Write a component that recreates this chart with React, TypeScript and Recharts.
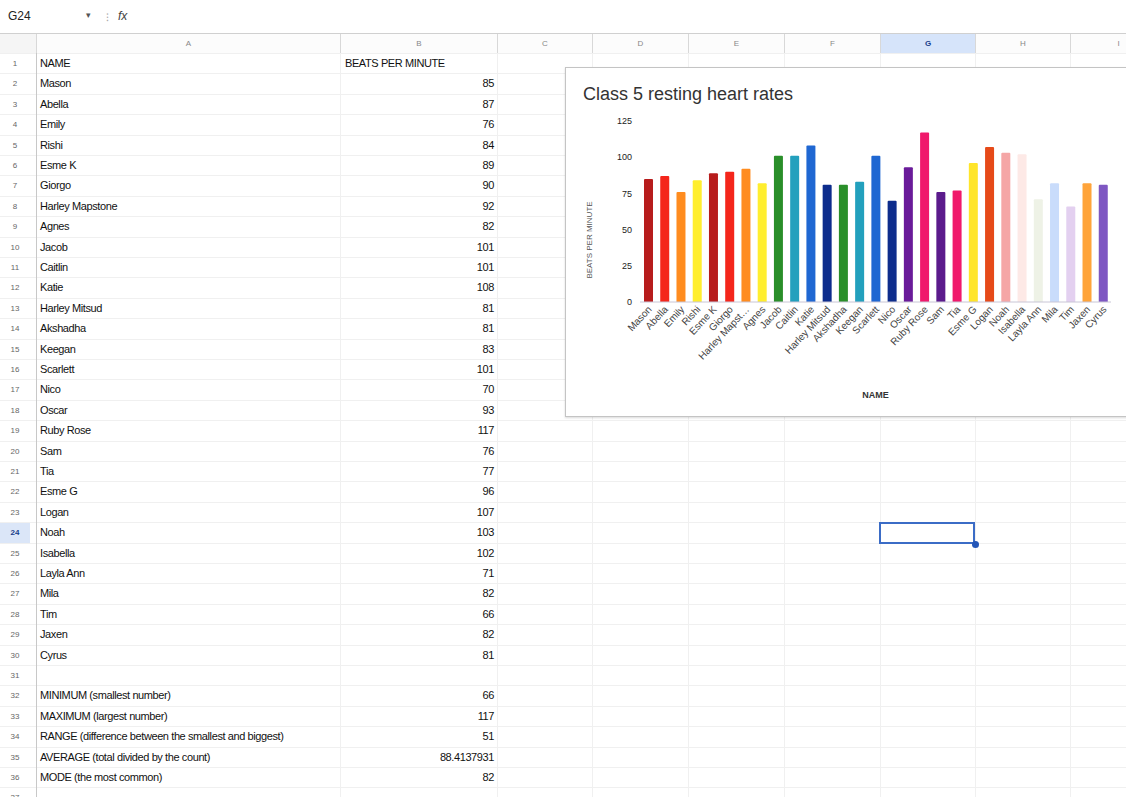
import { BarChart, Bar, XAxis, YAxis, Cell } from 'recharts'

const names = [
  'Mason', 'Abella', 'Emily', 'Rishi', 'Esme K', 'Giorgo', 'Harley Mapstone', 'Agnes',
  'Jacob', 'Caitlin', 'Katie', 'Harley Mitsud', 'Akshadha', 'Keegan', 'Scarlett', 'Nico',
  'Oscar', 'Ruby Rose', 'Sam', 'Tia', 'Esme G', 'Logan', 'Noah', 'Isabella', 'Layla Ann',
  'Mila', 'Tim', 'Jaxen', 'Cyrus',
]
const beatsPerMinute = [
  85, 87, 76, 84, 89, 90, 92, 82, 101, 101, 108, 81, 81, 83, 101, 70,
  93, 117, 76, 77, 96, 107, 103, 102, 71, 82, 66, 82, 81,
]
const barColors = [
  '#b71c1c', '#f4261b', '#ff8c1f', '#ffee2e', '#b71c1c', '#f4261b', '#ff8c1f', '#ffee2e',
  '#2a8f2a', '#23a0bd', '#1f67d2', '#0d2c8c', '#2a8f2a', '#23a0bd', '#1f67d2', '#0d2c8c',
  '#6a1b9a', '#f0196b', '#5b1b8c', '#f0196b', '#ffe52a', '#e64a19', '#f5a6a6', '#fde9e6',
  '#eef2e6', '#c9dcfb', '#e3d0f0', '#ffa43a', '#7e57c2',
]
const yTicks = [0, 25, 50, 75, 100, 125]

const statLabels = [
  'MINIMUM (smallest number)',
  'MAXIMUM (largest number)',
  'RANGE (difference between the smallest and biggest)',
  'AVERAGE (total divided by the count)',
  'MODE (the most common)',
]
const statValues = ['66', '117', '51', '88.4137931', '82']

const columnLetters = ['A', 'B', 'C', 'D', 'E', 'F', 'G', 'H', 'I']
const columnEdges = [36, 340, 497, 592, 688, 784, 880, 975, 1070, 1166]

const ROW_TOP = 53
const ROW_H = 20.4
const ROW_COUNT = 37
const FONT = '"Liberation Sans", Arial, sans-serif'

const chartData = names.map((name, i) => ({ name, bpm: beatsPerMinute[i] }))

// spreadsheet rows: header, the class list, a blank row, then the stats
const sheetRows: [string, string][] = [
  ['NAME', 'BEATS PER MINUTE'],
  ...names.map((n, i) => [n, String(beatsPerMinute[i])] as [string, string]),
  ['', ''],
  ...statLabels.map((l, i) => [l, statValues[i]] as [string, string]),
]

function NameTick(props: any) {
  const { x, y, payload } = props
  const label = payload.value.length > 13 ? payload.value.slice(0, 12) + '…' : payload.value
  return (
    <g transform={`translate(${x},${y})`}>
      <text x={3} y={0} dy={3} textAnchor="end" fill="#444" fontSize={10} fontFamily={FONT} transform="rotate(-47)">
        {label}
      </text>
    </g>
  )
}

function Sheet() {
  const rowLines = Array.from({ length: ROW_COUNT + 1 }, (_, k) => ROW_TOP + k * ROW_H)
  return (
    <>
      {/* formula bar */}
      <div style={{ position: 'absolute', left: 8, top: 9, fontSize: 12, color: '#222' }}>G24</div>
      <div style={{ position: 'absolute', left: 86, top: 10, fontSize: 9, color: '#555' }}>▾</div>
      <div style={{ position: 'absolute', left: 106, top: 9, fontSize: 11, color: '#aaa' }}>⁝</div>
      <div style={{ position: 'absolute', left: 118, top: 9, fontSize: 12, color: '#444', fontStyle: 'italic' }}>fx</div>
      <div style={{ position: 'absolute', left: 0, top: 33, width: 1126, height: 1, background: '#d0d0d0' }} />

      {/* column headers */}
      {columnLetters.map((c, i) => (
        <div
          key={c}
          style={{
            position: 'absolute',
            left: columnEdges[i],
            top: 34,
            width: columnEdges[i + 1] - columnEdges[i],
            height: 19,
            lineHeight: '19px',
            textAlign: 'center',
            fontSize: 8,
            color: c === 'G' ? '#1a3f8a' : '#888',
            fontWeight: c === 'G' ? 700 : 400,
            background: c === 'G' ? '#d6e4fa' : '#fcfcfc',
            borderLeft: '1px solid #d8d8d8',
            boxSizing: 'border-box',
          }}
        >
          {c}
        </div>
      ))}
      <div style={{ position: 'absolute', left: 0, top: 34, width: 36, height: 19, background: '#f5f5f5' }} />

      {/* grid lines */}
      {rowLines.map((y, k) => (
        <div key={'h' + k} style={{ position: 'absolute', left: 0, top: y, width: 1126, height: 1, background: '#f0f0f0' }} />
      ))}
      {columnEdges.map((x, k) => (
        <div
          key={'v' + k}
          style={{ position: 'absolute', left: x, top: 53, width: 1, height: 744, background: k === 0 ? '#c8c8c8' : '#f0f0f0' }}
        />
      ))}

      {/* row numbers */}
      {rowLines.slice(0, ROW_COUNT).map((y, k) => (
        <div
          key={'r' + k}
          style={{
            position: 'absolute',
            left: 0,
            top: y + 1,
            width: 30,
            height: ROW_H - 1,
            lineHeight: `${ROW_H - 1}px`,
            textAlign: 'center',
            fontSize: 8,
            color: k === 23 ? '#1a3f8a' : '#666',
            fontWeight: k === 23 ? 700 : 400,
            background: k === 23 ? '#dbe6f8' : 'transparent',
          }}
        >
          {k + 1}
        </div>
      ))}

      {/* cell contents */}
      {sheetRows.map(([a, b], k) => (
        <div key={'c' + k}>
          <div
            style={{
              position: 'absolute',
              left: 40,
              top: ROW_TOP + k * ROW_H,
              height: ROW_H,
              lineHeight: `${ROW_H}px`,
              fontSize: 11,
              letterSpacing: -0.4,
              color: '#111',
              whiteSpace: 'nowrap',
            }}
          >
            {a}
          </div>
          <div
            style={{
              position: 'absolute',
              left: k === 0 ? 345 : 340,
              width: k === 0 ? 'auto' : 154,
              top: ROW_TOP + k * ROW_H,
              height: ROW_H,
              lineHeight: `${ROW_H}px`,
              fontSize: 11,
              letterSpacing: -0.4,
              color: '#111',
              textAlign: k === 0 ? 'left' : 'right',
              whiteSpace: 'nowrap',
            }}
          >
            {b}
          </div>
        </div>
      ))}

      {/* selected cell G24 */}
      <div
        style={{
          position: 'absolute',
          left: 879,
          top: ROW_TOP + 23 * ROW_H,
          width: 96,
          height: ROW_H + 1,
          border: '2px solid #3b6cc6',
          boxSizing: 'border-box',
        }}
      />
      <div
        style={{
          position: 'absolute',
          left: 972,
          top: ROW_TOP + 24 * ROW_H - 2,
          width: 7,
          height: 7,
          borderRadius: 4,
          background: '#2456b8',
        }}
      />
    </>
  )
}

export default function App() {
  return (
    <div
      style={{
        position: 'absolute',
        left: 0,
        top: 0,
        width: 1126,
        height: 797,
        overflow: 'hidden',
        background: '#fff',
        fontFamily: FONT,
      }}
    >
      <Sheet />
      <div
        style={{
          position: 'absolute',
          left: 565,
          top: 67,
          width: 600,
          height: 350,
          background: '#fff',
          border: '1px solid #c4c4c4',
          boxShadow: '0 1px 2px rgba(0,0,0,0.15)',
          boxSizing: 'border-box',
        }}
      >
        <div style={{ position: 'absolute', left: 17, top: 16, fontSize: 18, color: '#333', whiteSpace: 'nowrap' }}>
          Class 5 resting heart rates
        </div>
        <div style={{ position: 'absolute', left: -1, top: -1 }}>
          <BarChart width={570} height={350} data={chartData} margin={{ top: 54, right: 24, left: 20, bottom: 0 }}>
            <XAxis
              dataKey="name"
              interval={0}
              tick={NameTick}
              tickLine={false}
              axisLine={{ stroke: '#c9c6d6' }}
              height={115}
              label={{ value: 'NAME', position: 'insideBottom', offset: 19, fontSize: 9, fill: '#333', fontWeight: 700 }}
            />
            <YAxis
              domain={[0, 125]}
              ticks={yTicks}
              width={55}
              tickLine={false}
              axisLine={false}
              tickMargin={2}
              tick={{ fontSize: 9, fill: '#222', fontFamily: FONT }}
              label={{
                content: () => (
                  <text x={27} y={173} transform="rotate(-90 27 173)" textAnchor="middle" fontSize={8} fill="#555" fontFamily={FONT}>
                    BEATS PER MINUTE
                  </text>
                ),
              }}
            />
            <Bar dataKey="bpm" barSize={9} radius={[1, 1, 0, 0]} isAnimationActive={false}>
              {chartData.map((d, i) => (
                <Cell key={d.name} fill={barColors[i]} />
              ))}
            </Bar>
          </BarChart>
        </div>
      </div>
    </div>
  )
}
